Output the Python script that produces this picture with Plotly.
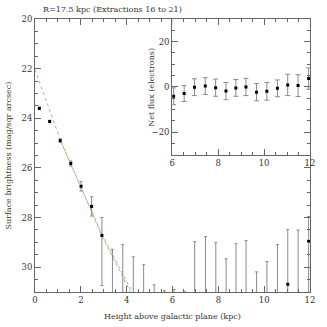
import plotly.graph_objects as go

# extraction heights (kpc), same for both panels
height_kpc = [0.19, 0.64, 1.10, 1.56, 2.01, 2.47, 2.92, 3.38, 3.83, 4.29, 4.74, 5.20, 5.65,
              6.06, 6.52, 6.97, 7.44, 7.89, 8.34, 8.77, 9.21, 9.67, 10.12, 10.58, 11.03, 11.48, 11.94]

# detections: surface brightness with errors (bright side / faint side)
det_x = [0.19, 0.64, 1.10, 1.56, 2.01, 2.47, 2.92, 11.03, 11.94]
det_mag = [23.6, 24.13, 24.9, 25.82, 26.74, 27.55, 28.72, 30.69, 28.96]
det_err_bright = [0.05, 0.05, 0.07, 0.1, 0.19, 0.39, 0.72, 2.21, 1.0]
det_err_faint = [0.05, 0.05, 0.07, 0.1, 0.19, 0.39, 2.02, 5.0, 5.0]

# non-detections: only the bright end of the error bar is seen
lim_x = [3.38, 3.83, 4.29, 4.74, 5.20, 5.65, 6.06, 6.52, 6.97, 7.44, 7.89, 8.34, 8.77,
         9.21, 9.67, 10.12, 10.58, 11.48]
lim_top = [29.28, 29.09, 29.58, 29.9, 30.71, 30.95, 30.9, 30.97, 28.97, 28.77, 29.0, 29.66,
           29.05, 28.93, 30.19, 29.77, 29.09, 28.5]

# fits
red_fit_x = [0.0, 1.11, 2.92, 4.16]
red_fit_y = [22.04, 24.88, 28.74, 31.0]
green_fit_x = [1.11, 2.92, 4.24]
green_fit_y = [24.9, 28.68, 31.0]

# inset: net flux
flux_x = height_kpc[13:]
flux = [-4.1, -2.9, -0.1, 0.4, -0.3, -1.8, -0.4, 0.0, -2.3, -1.9, -0.6, 0.9, 0.6, 3.7]
flux_err = [3.7, 3.5, 3.7, 3.7, 3.8, 3.8, 3.7, 3.8, 3.8, 3.9, 3.7, 4.7, 4.8, 4.7]

FONT = "DejaVu Serif"
AX = "#666"
BAR = "#8a8a8a"
TXT = "#333"

fig = go.Figure()

fig.add_trace(go.Scatter(x=red_fit_x, y=red_fit_y, mode="lines",
                         line=dict(color="#ff8a8a", width=1, dash="dot"), xaxis="x", yaxis="y"))
fig.add_trace(go.Scatter(x=green_fit_x, y=green_fit_y, mode="lines",
                         line=dict(color="#6ad66a", width=1, dash="dot"), xaxis="x", yaxis="y"))

fig.add_trace(go.Scatter(x=lim_x, y=lim_top, mode="markers",
                         marker=dict(size=1, color="rgba(0,0,0,0)"),
                         error_y=dict(type="data", symmetric=False,
                                      array=[5.0] * len(lim_top), arrayminus=[0] * len(lim_top),
                                      color=BAR, thickness=1, width=1.5),
                         xaxis="x", yaxis="y"))

fig.add_trace(go.Scatter(x=det_x, y=det_mag, mode="markers",
                         marker=dict(symbol="square", size=3, color="black"),
                         error_y=dict(type="data", symmetric=False,
                                      array=det_err_faint, arrayminus=det_err_bright,
                                      color=BAR, thickness=1, width=1.5),
                         xaxis="x", yaxis="y"))

# inset
fig.add_trace(go.Scatter(x=flux_x, y=flux, mode="markers",
                         marker=dict(symbol="square", size=3, color="black"),
                         error_y=dict(type="data", array=flux_err, color=BAR,
                                      thickness=1, width=2.5),
                         xaxis="x2", yaxis="y2"))

fig.add_shape(type="line", xref="x2 domain", yref="y2", x0=0, x1=1, y0=0, y1=0,
              line=dict(color="#777", width=1, dash="dashdot"), layer="below")

axis_common = dict(showgrid=False, zeroline=False, showline=True, linecolor=AX, linewidth=1,
                   mirror="ticks", ticks="inside", tickcolor=AX, ticklen=6, automargin=False,
                   tickfont=dict(family=FONT, size=8.5, color=TXT))

def label(text, x, y, angle=0, **kw):
    return dict(text=text, xref="paper", yref="paper", x=x, y=y, textangle=angle,
                showarrow=False, font=dict(family=FONT, size=8, color=TXT), **kw)

fig.update_layout(
    width=327, height=327,
    margin=dict(l=35, r=17, t=19, b=35),
    paper_bgcolor="white", plot_bgcolor="white",
    showlegend=False, hovermode=False,
    font=dict(family=FONT, size=8.5, color=TXT),
    xaxis=dict(range=[0, 12], dtick=2, tick0=0,
               minor=dict(ticks="inside", dtick=0.5, ticklen=3, tickcolor=AX),
               **axis_common),
    yaxis=dict(range=[31, 20], dtick=2, tick0=20,
               minor=dict(ticks="inside", dtick=0.5, ticklen=3, tickcolor=AX),
               **axis_common),
    xaxis2=dict(domain=[0.499, 1], anchor="y2", range=[6, 12], dtick=2, tick0=6,
                minor=dict(ticks="inside", dtick=0.5, ticklen=3, tickcolor=AX),
                **axis_common),
    yaxis2=dict(domain=[0.502, 1], anchor="x2", range=[-30, 30], dtick=20, tick0=0,
                minor=dict(ticks="inside", dtick=5, ticklen=3, tickcolor=AX),
                **axis_common),
    annotations=[
        label("R=17.5 kpc (Extractions 16 to 21)", 0.02, 1.0, yshift=3,
              xanchor="left", yanchor="bottom"),
        label("Height above galactic plane (kpc)", 0.5, 0.0, yshift=-24,
              xanchor="center", yanchor="middle"),
        label("Surface brightness (mag/sqr arcsec)", -0.098, 0.5, angle=-90,
              xanchor="center", yanchor="middle"),
        label("Net flux (electrons)", 0.425, 0.751, angle=-90,
              xanchor="center", yanchor="middle"),
    ],
)

# page body has a default 8px margin; remove it so the figure sits at the window corner
fig.write_html("out.html", config={"staticPlot": True},
               post_script="document.body.style.margin='0';")
